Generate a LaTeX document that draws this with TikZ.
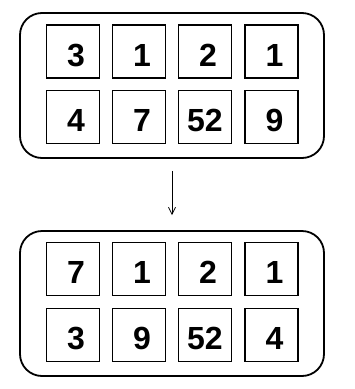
\documentclass[tikz,border=0pt]{standalone}
\usepackage{fontspec}
\setmainfont{Liberation Sans}
\usetikzlibrary{positioning, calc, fit, arrows.meta}

\tikzset{
  widecell/.style={draw=black, line width=1.7pt, minimum size=53pt, inner sep=0pt,
    text height=29pt, text depth=0pt,
    font=\fontsize{32}{32}\selectfont\bfseries},
  cell/.style={widecell, execute at begin node={\hspace*{6pt}}},
  tray/.style={draw=black, line width=1.8pt, rounded corners=22pt,
    minimum width=304pt, minimum height=145pt, inner sep=0pt}
}

\begin{document}
\begin{tikzpicture}[x=1pt, y=-1pt]
\useasboundingbox (0,0) rectangle (355,389);
% containers
\node[tray] (before) at (172,85.5) {};
\node[tray] (after) at (172,303.5) {};
% cells before
\node[cell] (b11) at (73,51.5) {3};
\node[cell] (b12) at (139,51.5) {1};
\node[cell] (b13) at (205,51.5) {2};
\node[cell] (b14) at (271.5,51.5) {1};
\node[cell] (b21) at (73,117) {4};
\node[cell] (b22) at (139,117) {7};
\node[widecell] (b23) at (205,117) {52};
\node[cell] (b24) at (271.5,117) {9};
% cells after
\node[cell] (a11) at (73,269) {7};
\node[cell] (a12) at (139,269) {1};
\node[cell] (a13) at (205,269) {2};
\node[cell] (a14) at (271.5,269) {1};
\node[cell] (a21) at (73,335) {3};
\node[cell] (a22) at (139,335) {9};
\node[widecell] (a23) at (205,335) {52};
\node[cell] (a24) at (271.5,335) {4};
% arrow
\draw[line width=0.8pt, -{Straight Barb[length=7pt, width=7pt]}, shorten <=12pt, shorten >=15pt]
  (before.south) -- (after.north);
\end{tikzpicture}
\end{document}
